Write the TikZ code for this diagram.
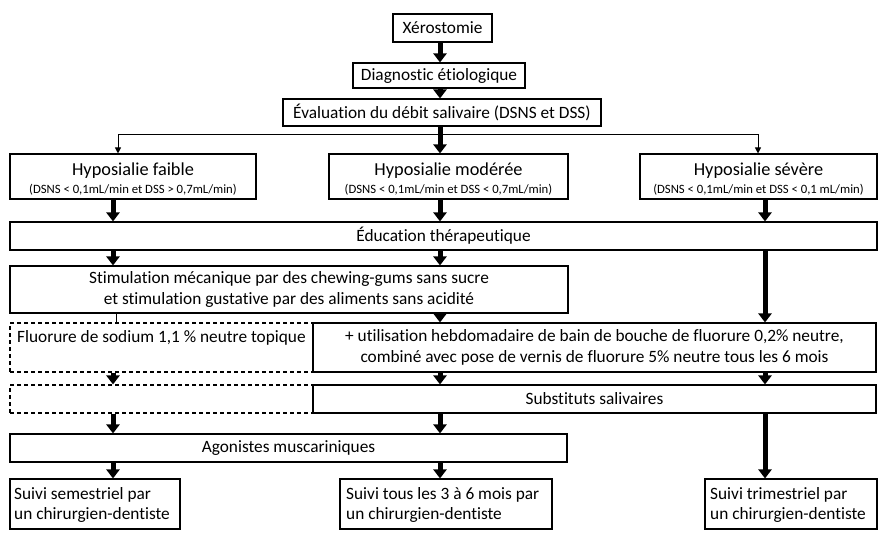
\documentclass[tikz,border=0pt]{standalone}
\usepackage{fontspec}
\setmainfont{Carlito}[Ligatures=NoCommon]
\usetikzlibrary{arrows.meta,fit}
\begin{document}
\begin{tikzpicture}[x=1pt,y=-1pt,
  box/.style={draw=black, line width=1.1pt, inner sep=0pt, fill=white},
  dbox/.style={box, dashed, dash pattern=on 4pt off 3pt},
  txt/.style={inner sep=0pt, align=center, font=\fontsize{17.3}{20.5}\selectfont},
  txtl/.style={inner sep=0pt, align=left, anchor=west, font=\fontsize{17.3}{20}\selectfont},
  ttl/.style={inner sep=0pt, anchor=base, font=\fontsize{18.3}{20}\selectfont},
  subt/.style={inner sep=0pt, anchor=base, font=\fontsize{12.7}{14}\selectfont},
  big/.style={line width=5pt, -{Triangle[width=13pt,length=9pt]}},
  thin/.style={line width=1pt, -{Triangle[width=6pt,length=6pt]}},
  thinline/.style={line width=1pt}
]
\useasboundingbox (0,0) rectangle (883,533);
\fill[white] (0,0) rectangle (883,533);

\coordinate (xL) at (113,0);
\coordinate (xLt) at (116,0);
\coordinate (xM) at (440,0);
\coordinate (xR) at (765,0);
\coordinate (bL) at (118,134);
\coordinate (bR) at (758,134);

% boxes
\node[box, fit={(393,14) (492,42)}] (xero) {};
\node[txt] at (xero.center) {Xérostomie};
\node[box, fit={(353,63) (525,88)}] (diag) {};
\node[txt] at (diag.center) {Diagnostic étiologique};
\node[box, fit={(283,99) (601,126)}] (eval) {};
\node[txt] at (eval.center) {Évaluation du débit salivaire (DSNS et DSS)};

\node[box, fit={(10,154) (256,199)}] (hf) {};
\node[ttl] at ([yshift=-22pt]hf.north) {Hyposialie faible};
\node[subt] at ([yshift=-40pt]hf.north) {(DSNS < 0,1mL/min et DSS > 0,7mL/min)};
\node[box, fit={(329,154) (568,199)}] (hm) {};
\node[ttl] at ([yshift=-22pt]hm.north) {Hyposialie modérée};
\node[subt] at ([yshift=-40pt]hm.north) {(DSNS < 0,1mL/min et DSS < 0,7mL/min)};
\node[box, fit={(640,154) (877,199)}] (hs) {};
\node[ttl] at ([yshift=-22pt]hs.north) {Hyposialie sévère};
\node[subt] at ([yshift=-40pt]hs.north) {(DSNS < 0,1mL/min et DSS < 0,1 mL/min)};

\node[box, fit={(10,222) (877,250)}] (edu) {};
\node[txt] at (edu.center) {Éducation thérapeutique};

\node[box, fit={(10,266) (568,313)}] (stim) {};
\node[txt] at (stim.center) {Stimulation mécanique par des chewing-gums sans sucre\\et stimulation gustative par des aliments sans acidité};

\node[dbox, fit={(10,323) (313,372)}] (fl) {};
\node[txtl] at (17,338) {Fluorure de sodium 1,1 \% neutre topique};
\node[box, fit={(313,323) (876,372)}] (util) {};
\node[txt] at (util.center) {+ utilisation hebdomadaire de bain de bouche de fluorure 0,2\% neutre,\\combiné avec pose de vernis de fluorure 5\% neutre tous les 6 mois};

\node[dbox, fit={(10,385) (313,413)}] (d2) {};
\node[box, fit={(313,385) (876,413)}] (subs) {};
\node[txt] at (subs.center) {Substituts salivaires};

\node[box, fit={(10,434) (567,462)}] (ago) {};
\node[txt] at (ago.center) {Agonistes muscariniques};

\node[box, fit={(10,479) (180,529)}] (s1) {};
\node[txtl] at (14,504.5) {Suivi semestriel par\\un chirurgien-dentiste};
\node[box, fit={(340,479) (552,529)}] (s2) {};
\node[txtl] at (346,504.5) {Suivi tous les 3 à 6 mois par\\un chirurgien-dentiste};
\node[box, fit={(705,479) (877,529)}] (s3) {};
\node[txtl] at (710,504.5) {Suivi trimestriel par\\un chirurgien-dentiste};

% top arrows
\draw[big] (xero.south -| xM) -- (diag.north -| xM);
\draw[big] (diag.south -| xM) -- (eval.north -| xM);
\draw[big] (eval.south -| xM) -- (hm.north -| xM);
\draw[thinline] (bL) -- (bR);
\draw[thin] (bL) -- (hf.north -| bL);
\draw[thin] (bR) -- (hs.north -| bR);

% to education
\draw[big] (hf.south -| xL) -- (edu.north -| xL);
\draw[big] (hm.south -| xM) -- (edu.north -| xM);
\draw[big] (hs.south -| xR) -- (edu.north -| xR);

% left column
\draw[big] (edu.south -| xL) -- (stim.north -| xL);
\draw[thinline] (stim.south -| xLt) -- (fl.north -| xLt);
\draw[big] (fl.south -| xL) -- (d2.north -| xL);
\draw[big] (d2.south -| xL) -- (ago.north -| xL);
\draw[big] (ago.south -| xL) -- (s1.north -| xL);

% middle column
\draw[big] (edu.south -| xM) -- (stim.north -| xM);
\draw[big] (stim.south -| xM) -- (util.north -| xM);
\draw[big] (util.south -| xM) -- (subs.north -| xM);
\draw[big] (subs.south -| xM) -- (ago.north -| xM);
\draw[big] (ago.south -| xM) -- (s2.north -| xM);

% right column
\draw[big] (edu.south -| xR) -- (util.north -| xR);
\draw[big] (util.south -| xR) -- (subs.north -| xR);
\draw[big] (subs.south -| xR) -- (s3.north -| xR);
\end{tikzpicture}
\end{document}
